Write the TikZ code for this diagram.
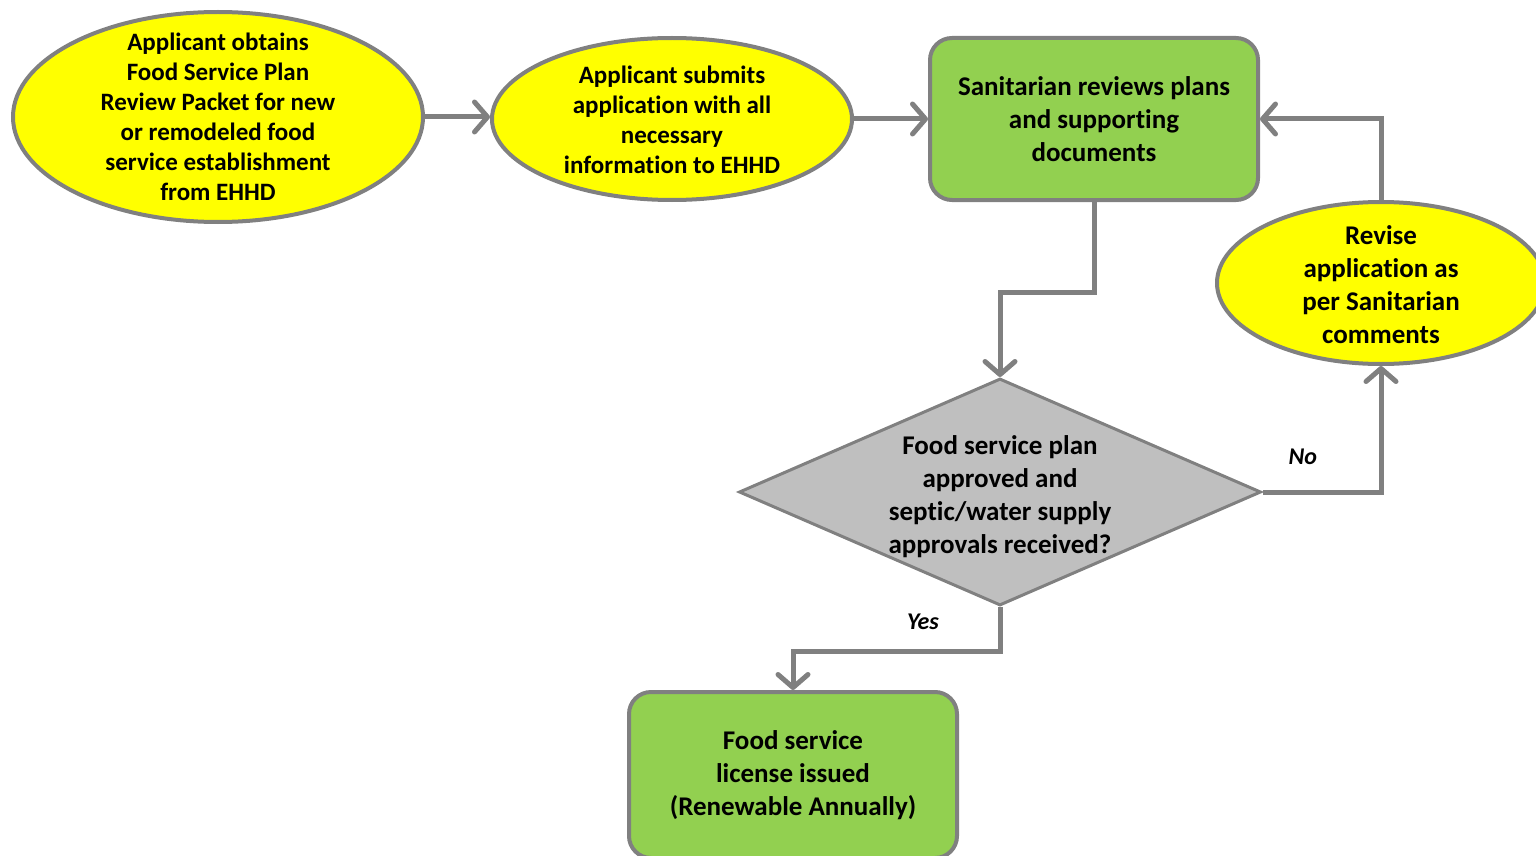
\documentclass[tikz,border=0pt]{standalone}
\usepackage{fontspec}
\setmainfont{Carlito}[Ligatures=NoCommon]
\usetikzlibrary{arrows.meta}
\usetikzlibrary{shapes.geometric}

\definecolor{boxgreen}{HTML}{92D050}
\definecolor{bubbleyellow}{HTML}{FFFF00}
\definecolor{linegray}{HTML}{808080}
\definecolor{diamondgray}{HTML}{BFBFBF}

\tikzset{
  smalltxt/.style={align=center, font=\bfseries\fontsize{25}{30}\selectfont},
  bigtxt/.style={align=center, font=\bfseries\fontsize{27}{33}\selectfont},
  bubble/.style={ellipse, draw=linegray, line width=4pt, fill=bubbleyellow, inner sep=0pt},
  stepbox/.style={rectangle, rounded corners=22pt, draw=linegray, line width=4pt, fill=boxgreen,
    minimum width=328pt, minimum height=162pt, bigtxt},
  decide/.style={diamond, draw=linegray, line width=3pt, fill=diamondgray, inner sep=0pt,
    minimum width=522pt, minimum height=227pt},
  flow/.style={draw=linegray, line width=5pt,
    -{Straight Barb[length=13pt, width=30pt, line cap=round, line join=round]}},
  lbl/.style={font=\bfseries\itshape\fontsize{24}{28}\selectfont}
}

\begin{document}
\begin{tikzpicture}[x=1pt, y=-1pt]
  \useasboundingbox (0,0) rectangle (1536,856);

  \node[bubble, minimum width=410pt, minimum height=210pt,
    label={[smalltxt]center:{Applicant obtains\\Food Service Plan\\Review Packet for new\\or remodeled food\\service establishment\\from EHHD}}]
    (obtain) at (218,117) {};
  \node[bubble, minimum width=360pt, minimum height=162pt,
    label={[smalltxt, yshift=-1pt]center:{Applicant submits\\application with all\\necessary\\information to EHHD}}]
    (submit) at (672,119) {};
  \node[stepbox] (review) at (1094,119) {Sanitarian reviews plans\\and supporting\\documents};
  \node[bubble, minimum width=328pt, minimum height=162pt,
    label={[bigtxt, yshift=-2pt]center:{Revise\\application as\\per Sanitarian\\comments}}]
    (revise) at (1381,283) {};
  \node[decide, label={[bigtxt, yshift=-5pt]center:{Food service plan\\approved and\\septic/water supply\\approvals received?}}]
    (decision) at (1000,492) {};
  \node[stepbox, minimum height=166pt] (license) at (793,775) {Food service\\license issued\\(Renewable Annually)};

  \draw[flow] (obtain.east) -- (obtain.east -| submit.west);
  \draw[flow] (submit.east) -- (review.west);
  \draw[flow] (review.south) -- ++(0,90) -| (decision.north);
  \draw[flow] (decision.east) -| node[lbl, pos=0.17, yshift=35pt] {No} (revise.south);
  \draw[flow] (revise.north) |- (review.east);
  \draw[flow] (decision.south) -- node[lbl, xshift=-77pt, yshift=7pt] {Yes} ++(0,44) -| (license.north);
\end{tikzpicture}
\end{document}
